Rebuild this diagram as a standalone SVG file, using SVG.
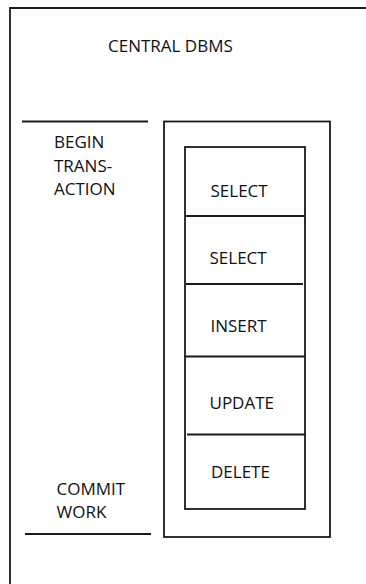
<svg xmlns="http://www.w3.org/2000/svg" width="366" height="584" viewBox="0 0 366 584">
  <style>
    .ln { stroke: #1a1a1a; stroke-width: 1.8; fill: none; }
    .lbl { font-family: "Open Sans", "Liberation Sans", sans-serif; font-size: 17px; fill: #111; }
  </style>
  <rect width="366" height="584" fill="#fff"/>

  <!-- central DBMS frame (open to the right and bottom) -->
  <g id="central-dbms">
    <path class="ln" d="M10,584 V8 H366"/>
    <text class="lbl" x="108" y="52">CENTRAL DBMS</text>
  </g>

  <!-- transaction bounds -->
  <g id="begin-transaction">
    <line class="ln" x1="22" y1="121.5" x2="148" y2="121.5"/>
    <text class="lbl" x="54" y="148">BEGIN</text>
    <text class="lbl" x="54" y="172">TRANS-</text>
    <text class="lbl" x="54" y="195">ACTION</text>
  </g>
  <g id="commit-work">
    <text class="lbl" x="56.5" y="495">COMMIT</text>
    <text class="lbl" x="56.5" y="518">WORK</text>
    <line class="ln" x1="25" y1="534" x2="151" y2="534"/>
  </g>

  <!-- transaction container -->
  <g id="transaction">
    <rect class="ln" x="164" y="121.5" width="166" height="415.5"/>
  </g>

  <!-- statement stack -->
  <g id="statements">
    <rect class="ln" x="185" y="147" width="120" height="362"/>
  </g>
  <g id="connectors">
    <line class="ln" x1="186" y1="216" x2="305" y2="216"/>
    <line class="ln" x1="186" y1="284" x2="303" y2="284"/>
    <line class="ln" x1="185" y1="356.5" x2="305" y2="356.5"/>
    <line class="ln" x1="187" y1="434.5" x2="306" y2="434.5"/>
  </g>
  <g id="select-1"><text class="lbl" x="210.5" y="197">SELECT</text></g>
  <g id="select-2"><text class="lbl" x="209.5" y="264">SELECT</text></g>
  <g id="insert"><text class="lbl" x="210.5" y="332">INSERT</text></g>
  <g id="update"><text class="lbl" x="209.5" y="409">UPDATE</text></g>
  <g id="delete"><text class="lbl" x="211" y="478">DELETE</text></g>
</svg>
